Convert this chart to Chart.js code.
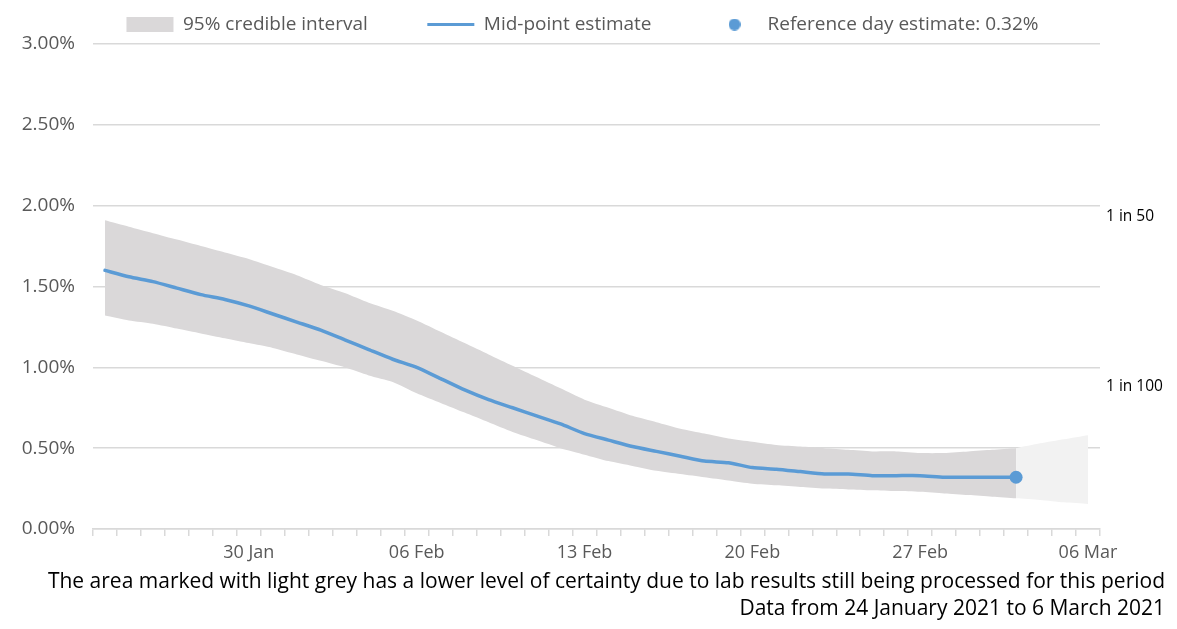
<!DOCTYPE html>
<html>
<head>
<meta charset="utf-8">
<script src="https://cdn.jsdelivr.net/npm/chart.js@4/dist/chart.umd.min.js"></script>
<style>
  html, body { margin: 0; padding: 0; background: #fff; }
  #wrap { width: 1177px; height: 629px; position: relative; }
</style>
</head>
<body>
<div id="wrap"><canvas id="chart"></canvas></div>
<script>
// x categories: one per day, 24 Jan 2021 to 06 Mar 2021
const days = [
  '24 Jan', '25 Jan', '26 Jan', '27 Jan', '28 Jan', '29 Jan', '30 Jan', '31 Jan',
  '01 Feb', '02 Feb', '03 Feb', '04 Feb', '05 Feb', '06 Feb', '07 Feb', '08 Feb',
  '09 Feb', '10 Feb', '11 Feb', '12 Feb', '13 Feb', '14 Feb', '15 Feb', '16 Feb',
  '17 Feb', '18 Feb', '19 Feb', '20 Feb', '21 Feb', '22 Feb', '23 Feb', '24 Feb',
  '25 Feb', '26 Feb', '27 Feb', '28 Feb', '01 Mar', '02 Mar', '03 Mar', '04 Mar',
  '05 Mar', '06 Mar'
];
const labelledDays = ['30 Jan', '06 Feb', '13 Feb', '20 Feb', '27 Feb', '06 Mar'];

// % testing positive
const midpoint = [
  1.60, 1.56, 1.53, 1.49, 1.45, 1.42, 1.38, 1.33, 1.28, 1.23, 1.17, 1.11, 1.05, 1.00,
  0.93, 0.86, 0.80, 0.75, 0.70, 0.65, 0.59, 0.55, 0.51, 0.48, 0.45, 0.42, 0.41, 0.38,
  0.37, 0.355, 0.34, 0.34, 0.33, 0.33, 0.33, 0.32, 0.32, 0.32, 0.32
];
const upperCI = [
  1.91, 1.87, 1.83, 1.79, 1.75, 1.71, 1.67, 1.62, 1.57, 1.51, 1.46, 1.40, 1.35, 1.29,
  1.22, 1.15, 1.08, 1.01, 0.94, 0.87, 0.80, 0.75, 0.70, 0.66, 0.62, 0.59, 0.56, 0.54,
  0.52, 0.51, 0.50, 0.49, 0.48, 0.48, 0.47, 0.47, 0.48, 0.49, 0.50
];
const lowerCI = [
  1.32, 1.29, 1.27, 1.24, 1.21, 1.18, 1.15, 1.12, 1.08, 1.04, 1.00, 0.95, 0.91, 0.84,
  0.78, 0.72, 0.66, 0.60, 0.55, 0.50, 0.46, 0.42, 0.39, 0.36, 0.34, 0.32, 0.30, 0.28,
  0.27, 0.26, 0.25, 0.245, 0.24, 0.235, 0.23, 0.22, 0.21, 0.20, 0.19
];
// less certain period (03 Mar to 06 Mar)
const upperProvisional = [0.50, 0.53, 0.555, 0.58];
const lowerProvisional = [0.19, 0.18, 0.165, 0.155];
const referenceDay = '03 Mar';
const referenceValue = 0.32;

const yTicks = [0, 0.5, 1, 1.5, 2, 2.5, 3];
const oddsLabels = ['1 in 50', '1 in 100'];
const oddsPositions = [1.93, 0.88];

const darkGrey = '#dad8d9';
const lightGrey = '#f2f2f2';
const blue = '#5b9bd5';
const textGrey = '#595959';
const gridGrey = '#d9d9d9';
const fontFamily = '"Open Sans", sans-serif';
const gap = '\u2002\u2002\u2002\u2002\u2002'; // extra room between legend entries

// pad a partial series out to the full list of days
function fromDay(day, values) {
  const start = days.indexOf(day);
  return days.map((d, i) => (i >= start && i - start < values.length) ? values[i - start] : null);
}

const refIndex = days.indexOf(referenceDay);
const refSeries = days.map((d, i) => i === refIndex ? referenceValue : null);

// small dot for the legend, centred in a box as wide as the others
const dot = document.createElement('canvas');
dot.width = 12; dot.height = 12;
const dctx = dot.getContext('2d');
dctx.fillStyle = blue;
dctx.beginPath(); dctx.arc(6, 6, 6, 0, Math.PI * 2); dctx.fill();

const ctx = document.getElementById('chart').getContext('2d');
new Chart(ctx, {
  type: 'line',
  data: {
    labels: days,
    datasets: [
      { label: 'upper', data: fromDay(days[0], upperCI), fill: '+1', backgroundColor: darkGrey,
        borderWidth: 0, pointRadius: 0, tension: 0.2, order: 3 },
      { label: 'lower', data: fromDay(days[0], lowerCI), fill: false,
        borderWidth: 0, pointRadius: 0, tension: 0.2, order: 3 },
      { label: 'upperP', data: fromDay(referenceDay, upperProvisional), fill: '+1', backgroundColor: lightGrey,
        borderWidth: 0, pointRadius: 0, tension: 0.2, order: 4 },
      { label: 'lowerP', data: fromDay(referenceDay, lowerProvisional), fill: false,
        borderWidth: 0, pointRadius: 0, tension: 0.2, order: 4 },
      { label: 'Mid-point estimate', data: fromDay(days[0], midpoint), borderColor: blue,
        borderWidth: 3.5, pointRadius: 0, tension: 0.2, fill: false, borderCapStyle: 'round', order: 1 },
      { label: 'Reference day estimate', data: refSeries, showLine: false, pointRadius: 6.5,
        pointBackgroundColor: blue, pointBorderWidth: 0, order: 0 }
    ]
  },
  options: {
    responsive: true,
    maintainAspectRatio: false,
    animation: false,
    layout: { padding: { top: 3, left: 0, right: 12, bottom: 0 } },
    scales: {
      x: {
        offset: true,
        grid: { offset: true, drawOnChartArea: false, color: gridGrey, lineWidth: 1.5, tickLength: 7 },
        border: { color: gridGrey, width: 1.5 },
        ticks: {
          autoSkip: false, maxRotation: 0, padding: 6, color: textGrey,
          font: { family: fontFamily, size: 18 },
          callback: function (v) {
            const l = this.getLabelForValue(v);
            return labelledDays.includes(l) ? l : '';
          }
        }
      },
      y: {
        min: 0, max: 3,
        afterBuildTicks: axis => { axis.ticks = yTicks.map(v => ({ value: v })); },
        afterFit: axis => { axis.width = 93; },
        grid: { color: gridGrey, lineWidth: 1.5, drawTicks: false },
        border: { display: false },
        ticks: {
          padding: 18, color: textGrey, font: { family: fontFamily, size: 19 },
          callback: v => v.toFixed(2) + '%'
        }
      },
      odds: {
        position: 'right', min: 0, max: 3,
        afterBuildTicks: axis => { axis.ticks = oddsPositions.map(v => ({ value: v })); },
        afterFit: axis => { axis.width = 65; },
        grid: { display: false, drawTicks: false },
        border: { display: false },
        ticks: {
          padding: 6, color: '#000', font: { family: fontFamily, size: 15.5 },
          callback: (v, i) => oddsLabels[i]
        }
      }
    },
    plugins: {
      legend: {
        position: 'top',
        labels: {
          usePointStyle: true, pointStyleWidth: 47, boxHeight: 15, padding: 12,
          color: textGrey, font: { family: fontFamily, size: 19 },
          generateLabels: () => [
            { text: '95% credible interval' + gap, fillStyle: darkGrey, strokeStyle: darkGrey, lineWidth: 0,
              pointStyle: 'rect', datasetIndex: 0, fontColor: textGrey },
            { text: 'Mid-point estimate' + gap, fillStyle: blue, strokeStyle: blue, lineWidth: 3,
              pointStyle: 'line', datasetIndex: 4, fontColor: textGrey },
            { text: 'Reference day estimate: ' + referenceValue.toFixed(2) + '%', fillStyle: blue,
              strokeStyle: blue, lineWidth: 0, pointStyle: dot, datasetIndex: 5, fontColor: textGrey }
          ]
        }
      },
      subtitle: {
        display: true, position: 'bottom', align: 'end', color: '#000',
        text: 'The area marked with light grey has a lower level of certainty due to lab results still being processed for this period',
        font: { family: fontFamily, size: 21 }, padding: { top: 0, bottom: 2 }
      },
      title: {
        display: true, position: 'bottom', align: 'end', color: '#000',
        text: 'Data from 24 January 2021 to 6 March 2021',
        font: { family: fontFamily, size: 21, weight: 'normal' }, padding: { top: 0, bottom: 7 }
      },
      tooltip: { enabled: false }
    }
  }
});
</script>
</body>
</html>
